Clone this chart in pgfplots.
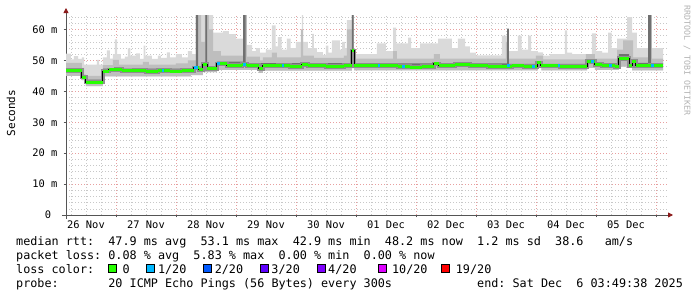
\documentclass[border=0pt]{standalone}
\usepackage{pgfplots}
\usepackage{pgfplotstable}
\pgfplotsset{compat=1.18}
\usepgfplotslibrary{fillbetween}
\usetikzlibrary{arrows.meta}
\usepackage{fontspec}
\setmainfont{DejaVu Sans}
\newfontfamily\mono{DejaVu Sans Mono}

\definecolor{lightsmoke}{HTML}{DADADA}
\definecolor{midsmoke}{HTML}{BEBEBE}
\definecolor{darksmoke}{HTML}{707070}
\definecolor{coresmoke}{HTML}{8E8E8E}
\definecolor{lossA}{HTML}{26FF00}
\definecolor{lossB}{HTML}{00B8FF}
\definecolor{lossC}{HTML}{0059FF}
\definecolor{lossD}{HTML}{5E00FF}
\definecolor{lossE}{HTML}{7E00FF}
\definecolor{lossF}{HTML}{DD00FF}
\definecolor{lossG}{HTML}{FF0000}
\definecolor{majorgrid}{HTML}{E8A0A0}
\definecolor{minorgrid}{HTML}{C8C8C8}
\definecolor{arrowred}{HTML}{8B1A1A}
\definecolor{axisgray}{HTML}{555555}

% median rtt (ms), x = days since 26 Nov 00:00
\pgfplotstableread{
x y
0.167 46.7
0.43 44.6
0.50 43.0
0.78 46.5
0.88 46.9
1.00 47.1
1.10 46.6
1.30 46.8
1.50 46.4
1.70 46.7
1.90 46.5
2.10 46.8
2.30 47.6
2.38 47.1
2.45 48.6
2.52 47.3
2.68 48.9
2.85 48.4
3.10 48.6
3.18 48.3
3.38 47.4
3.45 48.2
3.70 48.4
3.90 48.1
4.10 48.6
4.20 48.3
4.50 48.0
4.80 48.3
4.93 53.1
4.97 48.3
5.20 48.2
5.40 48.4
5.70 48.1
5.90 47.8
6.10 48.1
6.30 48.9
6.38 48.3
6.65 48.6
6.90 48.3
7.20 48.1
7.40 47.9
7.60 48.2
7.80 48.0
8.02 49.2
8.08 48.2
8.40 48.0
8.85 49.7
8.98 48.6
9.10 48.3
9.32 48.1
9.38 50.6
9.55 48.3
9.60 49.6
9.66 48.2
9.90 48.4
10.12 48.4
}\medtab

\pgfplotstableread{
x y
0.167 45.0
0.43 43.6
0.50 41.7
0.78 44.8
2.25 45.2
2.45 46.2
2.68 46.9
3.38 46.0
3.45 46.7
4.93 47.5
4.97 46.8
8.03 48.3
8.09 46.8
8.85 47.6
8.98 46.9
9.38 48.0
9.60 46.8
10.12 46.8
}\lotab

\pgfplotstableread{
x y
0.167 52.2
0.25 50.3
0.30 51.4
0.37 50.5
0.43 51.0
0.47 48.6
0.68 50.2
0.72 48.6
0.78 51.0
0.85 53.2
0.90 50.6
0.95 52.0
0.98 56.8
1.02 52.0
1.08 50.6
1.15 51.2
1.20 53.9
1.24 51.5
1.33 52.3
1.40 50.5
1.46 54.8
1.49 51.5
1.60 50.5
1.70 51.5
1.75 50.8
1.85 52.6
1.90 51.0
2.00 52.0
2.10 51.0
2.20 53.0
2.27 52.0
2.33 64.6
2.62 59.0
2.78 59.5
2.88 58.5
3.00 57.0
3.12 64.6
3.18 55.0
3.27 53.0
3.33 54.0
3.40 52.5
3.50 53.5
3.60 61.3
3.66 54.5
3.70 57.5
3.76 53.5
3.85 57.0
3.91 54.0
4.00 56.0
4.10 64.6
4.12 56.0
4.20 54.0
4.27 58.6
4.30 54.0
4.35 52.7
4.45 51.8
4.50 54.8
4.54 52.5
4.60 56.5
4.73 53.5
4.77 56.0
4.82 54.0
4.85 63.0
4.93 64.6
4.96 52.0
5.35 55.5
5.50 53.0
5.62 60.6
5.67 55.5
5.87 57.4
5.92 54.0
6.07 55.5
6.37 57.0
6.60 54.0
6.70 57.0
6.82 54.5
6.90 52.5
7.00 51.6
7.43 58.0
7.55 53.0
7.70 58.0
7.76 53.5
7.87 58.0
7.92 53.0
8.03 52.6
8.12 51.5
8.23 52.0
8.48 59.7
8.52 52.5
8.60 52.0
8.93 58.7
9.00 53.0
9.10 52.5
9.20 59.0
9.26 54.0
9.35 57.0
9.52 64.0
9.60 59.0
9.68 54.0
9.87 64.6
9.93 54.0
10.12 54.0
}\lighttab

\pgfplotstableread{
x y
0.167 49.2
0.43 47.6
0.47 45.0
0.78 48.5
0.95 50.2
1.05 48.6
1.45 49.5
1.55 48.6
2.00 49.0
2.20 50.0
2.33 64.6
2.42 56.0
2.48 64.6
2.55 60.0
2.62 53.0
2.75 51.5
3.12 64.6
3.18 51.2
3.40 50.0
3.45 51.0
3.60 52.5
3.68 51.0
4.08 60.0
4.12 51.5
4.30 50.8
4.80 51.5
4.85 60.0
4.93 64.6
4.96 50.6
5.62 53.0
5.68 50.6
6.30 52.0
6.40 50.6
7.50 56.0
7.55 50.6
8.00 51.5
8.12 50.3
8.83 52.0
8.98 50.6
9.35 53.5
9.45 56.5
9.62 51.0
9.87 64.6
9.93 50.6
10.12 50.6
}\midtab

\pgfplotstableread{
x y
0.167 47.4
0.43 45.3
0.50 43.8
0.78 47.3
2.33 64.6
2.37 47.8
2.49 64.6
2.52 48.0
2.68 49.6
3.12 64.6
3.16 49.1
4.93 64.6
4.96 49.0
7.52 60.3
7.55 48.9
9.38 52.0
9.55 49.2
9.87 64.6
9.92 49.1
10.12 49.1
}\darktab

\pgfplotstableread{
x y
1.76 46.7
1.80 46.7
nan nan
2.30 47.6
2.36 47.6
nan nan
2.68 48.9
2.73 48.9
nan nan
3.12 48.6
3.16 48.6
nan nan
3.76 48.4
3.80 48.4
nan nan
5.36 48.2
5.40 48.2
nan nan
5.77 48.1
5.81 48.1
nan nan
7.52 48.2
7.56 48.2
nan nan
7.94 48.0
7.98 48.0
nan nan
8.36 48.2
8.40 48.2
nan nan
8.91 49.7
8.96 49.7
nan nan
9.22 48.3
9.26 48.3
nan nan
9.92 48.4
9.96 48.4
}\bluetab

\begin{document}
\begin{tikzpicture}
\begin{axis}[
  scale only axis, width=602bp, height=201bp,
  xmin=0.167, xmax=10.2, ymin=0, ymax=65,
  axis lines=left,
  axis line style={draw=axisgray, line width=0.8bp},
  x axis line style={-{Triangle[length=5bp,width=5bp,color=arrowred]}, shorten >=-5bp, shorten <=-4bp},
  y axis line style={-{Triangle[length=5bp,width=5bp,color=arrowred]}, shorten >=-6bp, shorten <=-4bp},
  /pgf/number format/assume math mode=true,
  tick label style={font=\mono\fontsize{10.4bp}{12bp}\selectfont, text=black},
  tick align=outside,
  major tick length=2.5bp, minor tick length=0pt,
  tick style={draw=axisgray, line width=0.6bp},
  grid=both,
  major grid style={draw=majorgrid, line width=0.7bp, dash pattern=on 1bp off 2bp},
  minor grid style={draw=minorgrid, line width=0.6bp, dash pattern=on 1bp off 2bp},
  xtick={1,2,...,10}, xticklabels={},
  minor xtick={0.25,0.5,...,10.01},
  extra x ticks={0.5,1.5,...,9.5},
  extra x tick labels={26 Nov,27 Nov,28 Nov,29 Nov,30 Nov,01 Dec,02 Dec,03 Dec,04 Dec,05 Dec},
  extra x tick style={grid=none, major tick length=0pt,
     xticklabel style={anchor=base, yshift=-13.5bp}},
  ytick={0,10,...,60},
  yticklabels={0~~,10 m,20 m,30 m,40 m,50 m,60 m},
  minor ytick={2,4,...,64},
  yticklabel style={anchor=east, inner sep=0pt, xshift=-6bp},
  clip=true,
]
\addplot[draw=none, const plot, name path=lo, forget plot] table[x=x,y=y] {\lotab};
\addplot[draw=none, const plot, name path=lt, forget plot] table[x=x,y=y] {\lighttab};
\addplot[draw=none, const plot, name path=mt, forget plot] table[x=x,y=y] {\midtab};
\addplot[draw=none, const plot, name path=dt, forget plot] table[x=x,y=y] {\darktab};
\addplot[draw=none, const plot, name path=md, forget plot] table[x=x,y=y] {\medtab};

\addplot[fill=lightsmoke, draw=none] fill between[of=lt and lo];
\addplot[fill=midsmoke, draw=none] fill between[of=mt and lo];
\addplot[fill=darksmoke, draw=none] fill between[of=dt and md];

\addplot[const plot, draw=coresmoke, line width=4.5bp] table[x=x,y=y] {\medtab};
\addplot[const plot, draw=black, line width=1bp] table[x=x,y=y] {\medtab};
\addplot[jump mark left, draw=lossA, line width=3bp] table[x=x,y=y] {\medtab};
\addplot[jump mark left, draw=lossB, line width=3bp, unbounded coords=jump] table[x=x,y=y] {\bluetab};
\end{axis}

\node[rotate=90, font=\mono\fontsize{11bp}{13bp}\selectfont] at (-55bp,102bp) {Seconds};
\node[rotate=-90, anchor=west, inner sep=0pt, text=black!30, font=\mono\fontsize{8.3bp}{10bp}\selectfont] at (621bp,210bp) {RRDTOOL / TOBI OETIKER};

\begin{scope}[every node/.style={anchor=base west, inner sep=0pt, font=\mono\fontsize{11.78bp}{14bp}\selectfont}]
\node at (-50bp,-30bp) {median~rtt:~~47.9~ms~avg~~53.1~ms~max~~42.9~ms~min~~48.2~ms~now~~1.2~ms~sd~~38.6~~~am/s};
\node at (-50bp,-44bp) {packet~loss:~0.08~\%~avg~~5.83~\%~max~~0.00~\%~min~~0.00~\%~now};
\node at (-50bp,-58bp) {loss~color:~~~~0~~~~1/20~~~~2/20~~~~3/20~~~~4/20~~~~~10/20~~~~19/20};
\node at (-50bp,-72bp) {probe:~~~~~~~20~ICMP~Echo~Pings~(56~Bytes)~every~300s~~~~~~~~~~~~end:~Sat~Dec~~6~03:49:38~2025};
\end{scope}
\foreach \cx/\cc in {46.3/lossA, 84.5/lossB, 141/lossC, 198/lossD, 255/lossE, 316/lossF, 379.5/lossG}{
  \filldraw[fill=\cc, draw=black, line width=0.8bp] (\cx bp-4bp,-57bp) rectangle (\cx bp+4bp,-49bp);
}
\path[use as bounding box] (-66bp,-82bp) rectangle (631bp,215bp);
\end{tikzpicture}
\end{document}
